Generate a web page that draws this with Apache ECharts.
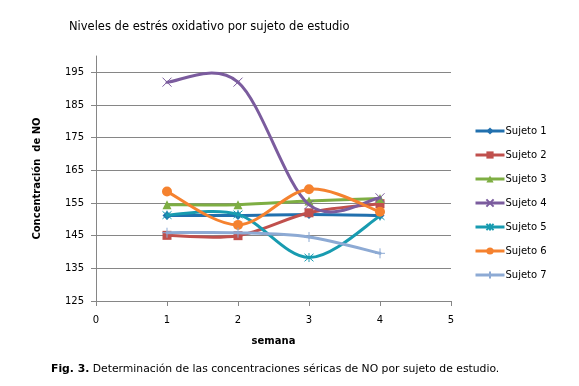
<!DOCTYPE html>
<html>
<head>
<meta charset="utf-8">
<script src="https://cdn.jsdelivr.net/npm/echarts@6/dist/echarts.min.js"></script>
<style>html,body{margin:0;padding:0;background:#fff}#c{width:579px;height:386px}</style>
</head>
<body>
<div id="c"></div>
<script>
var weeks = [1, 2, 3, 4];
var seriesNames = ['Sujeto 1','Sujeto 2','Sujeto 3','Sujeto 4','Sujeto 5','Sujeto 6','Sujeto 7'];
var sujeto1 = [151.2, 151.2, 151.5, 151.2];
var sujeto2 = [145.1, 145.0, 152.0, 154.8];
var sujeto3 = [154.5, 154.5, 155.6, 156.4];
var sujeto4 = [192.0, 192.0, 154.5, 156.6];
var sujeto5 = [151.3, 151.5, 138.3, 151.0];
var sujeto6 = [158.5, 148.3, 159.2, 152.3];
var sujeto7 = [145.9, 145.9, 144.6, 139.6];
var yTicks = [125, 135, 145, 155, 165, 175, 185, 195];
var xTicks = [0, 1, 2, 3, 4, 5];
var titleText = 'Niveles de estrés oxidativo por sujeto de estudio';
var yName = 'Concentración  de NO';
var xName = 'semana';
var captionBold = 'Fig. 3.';
var captionRest = ' Determinación de las concentraciones séricas de NO por sujeto de estudio.';

var allData = [sujeto1, sujeto2, sujeto3, sujeto4, sujeto5, sujeto6, sujeto7];
var colors = ['#2170AE', '#C0504D', '#7EAE43', '#7B5C9E', '#189BB0', '#F5822F', '#8DAAD4'];
var symbols = ['diamond', 'rect', 'triangle',
  'path://M0,0L10,10M10,0L0,10',
  'path://M0,0L10,10M10,0L0,10M5,-1L5,11',
  'circle',
  'path://M5,0L5,10M0,5L10,5'];
var sizes = [9, 9, 9, 9, 9, 10, 10];
var font = 'DejaVu Sans, Verdana, sans-serif';

// Smooth curve (Excel-like cardinal spline) computed through the axis scales
function makeRender(arr, color) {
  return function (params, api) {
    var j = params.dataIndex;
    if (j >= arr.length - 1) return null;
    function P(k) {
      k = Math.max(0, Math.min(arr.length - 1, k));
      return api.coord([weeks[k], arr[k]]);
    }
    var p0 = P(j - 1), p1 = P(j), p2 = P(j + 1), p3 = P(j + 2);
    var c1 = [p1[0] + (p2[0] - p0[0]) / 6, p1[1] + (p2[1] - p0[1]) / 6];
    var c2 = [p2[0] - (p3[0] - p1[0]) / 6, p2[1] - (p3[1] - p1[1]) / 6];
    return {
      type: 'bezierCurve',
      shape: { x1: p1[0], y1: p1[1], x2: p2[0], y2: p2[1], cpx1: c1[0], cpy1: c1[1], cpx2: c2[0], cpy2: c2[1] },
      style: { stroke: color, lineWidth: 3, fill: null, lineCap: 'round' }
    };
  };
}

var series = [];
allData.forEach(function (d, i) {
  series.push({
    type: 'custom',
    renderItem: makeRender(d, colors[i]),
    data: d.map(function (v, j) { return [weeks[j], v]; }),
    encode: { x: 0, y: 1 },
    silent: true,
    z: 2 + i * 2
  });
});
allData.forEach(function (d, i) {
  var open = i === 3 || i === 4 || i === 6;
  series.push({
    name: seriesNames[i],
    type: 'line',
    data: d.map(function (v, j) { return [weeks[j], v]; }),
    symbol: symbols[i],
    symbolSize: sizes[i],
    showSymbol: true,
    lineStyle: { color: colors[i], width: 3, opacity: 0 },
    itemStyle: open ? { color: colors[i], borderColor: colors[i], borderWidth: 1 } : { color: colors[i], borderWidth: 0 },
    z: 3 + i * 2
  });
});

var chart = echarts.init(document.getElementById('c'));
chart.setOption({
  animation: false,
  textStyle: { fontFamily: font },
  title: {
    text: titleText, left: 69, top: 21, padding: 0,
    textStyle: { fontFamily: font, fontSize: 11.5, fontWeight: 'normal', color: '#000' }
  },
  grid: { left: 96, right: 128, top: 56, bottom: 85 },
  legend: {
    orient: 'vertical', left: 474, top: 126, padding: 0,
    itemWidth: 29, itemHeight: 9, itemGap: 14,
    lineStyle: { opacity: 1, width: 3 },
    textStyle: { fontFamily: font, fontSize: 10, color: '#000', padding: [0, 0, 0, -4] },
    data: seriesNames
  },
  xAxis: {
    type: 'value', min: 0, max: 5, interval: 1,
    name: xName, nameLocation: 'middle', nameGap: 35,
    nameTextStyle: { fontFamily: font, fontSize: 10, fontWeight: 'bold', color: '#000' },
    axisLine: { show: true, lineStyle: { color: '#868686' } },
    axisTick: { show: true, length: 5, lineStyle: { color: '#868686' } },
    axisLabel: { fontFamily: font, fontSize: 10, color: '#000', margin: 14,
      formatter: function (v) { return xTicks.indexOf(v) >= 0 ? String(v) : ''; } },
    splitLine: { show: false }
  },
  yAxis: {
    type: 'value', min: 125, max: 200, interval: 10,
    name: yName, nameLocation: 'middle', nameGap: 54, nameRotate: 90,
    nameTextStyle: { fontFamily: font, fontSize: 10, fontWeight: 'bold', color: '#000' },
    axisLine: { show: true, lineStyle: { color: '#868686' } },
    axisTick: { show: true, length: 5, lineStyle: { color: '#868686' } },
    axisLabel: { fontFamily: font, fontSize: 10, color: '#000', margin: 12, showMaxLabel: false,
      formatter: function (v) { return yTicks.indexOf(v) >= 0 ? String(v) : ''; } },
    splitLine: { show: true, showMaxLine: false, lineStyle: { color: '#868686', width: 1 } }
  },
  graphic: [{
    type: 'text', left: 51, top: 364,
    style: {
      text: '{b|' + captionBold + '}{n|' + captionRest + '}',
      rich: {
        b: { fontFamily: font, fontSize: 10.8, fontWeight: 'bold', fill: '#000' },
        n: { fontFamily: font, fontSize: 10.8, fill: '#000' }
      }
    }
  }],
  series: series
});
</script>
</body>
</html>
